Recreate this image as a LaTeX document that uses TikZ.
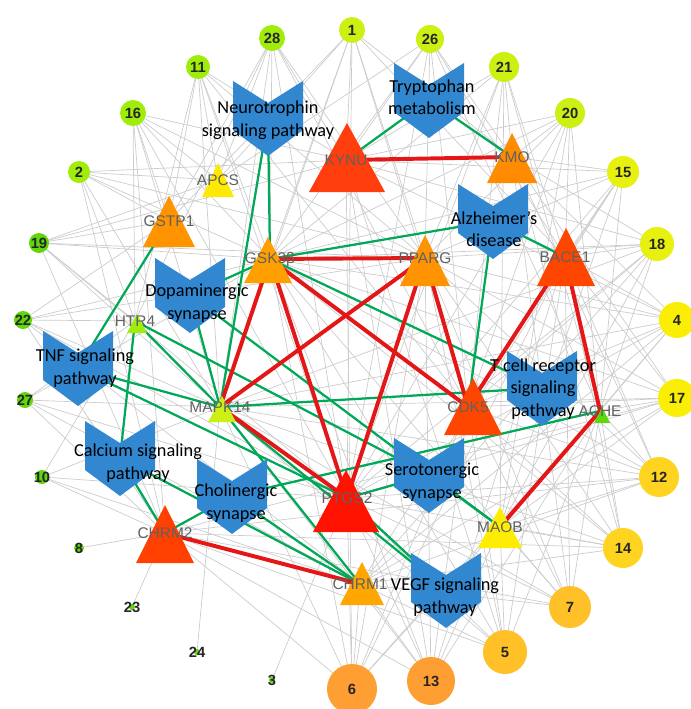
\documentclass[tikz,border=0pt]{standalone}
\usepackage{fontspec}
\setmainfont{Carlito}
\newfontfamily\arialfont{Liberation Sans}

\definecolor{pwblue}{RGB}{50,136,208}
\definecolor{lnkred}{RGB}{228,22,22}
\definecolor{lnkgreen}{RGB}{0,168,88}
\definecolor{cA}{RGB}{95,215,10}
\definecolor{cB}{RGB}{160,236,10}
\definecolor{cC}{RGB}{205,240,20}
\definecolor{cD}{RGB}{232,240,15}
\definecolor{cE}{RGB}{250,238,5}
\definecolor{cF}{RGB}{255,212,32}
\definecolor{cG}{RGB}{255,192,40}
\definecolor{cH}{RGB}{255,158,50}

\pgfdeclarelayer{edges}
\pgfdeclarelayer{labels}
\pgfsetlayers{edges,main,labels}

\tikzset{
  num/.style={font=\arialfont\bfseries\fontsize{10.5}{12}\selectfont, text=black!85, inner sep=0pt},
  cpd/.style={circle, inner sep=0pt, minimum size=#1*0.05cm},
  pwtext/.style={align=center, font=\fontsize{13}{16}\selectfont, inner sep=0pt},
  tgt/.style={font=\arialfont\fontsize{11}{12}\selectfont, text=black!62, inner sep=0pt},
  redlink/.style={lnkred, line width=2.8pt},
  greenlink/.style={lnkgreen, line width=1.6pt},
  greylink/.style={black!20, line width=0.5pt},
}
% triangle: x, apex y, base y, half width, colour
\newcommand\tri[5]{\fill[#5] (#1,#2) -- ({#1+#4},#3) -- ({#1-#4},#3) -- cycle;}
% pathway chevron: name, x, y
\newcommand\chev[3]{%
  \coordinate (#1) at (#2,#3);
  \fill[pwblue] ({#2-35},{#3-37}) -- (#2,{#3-15}) -- ({#2+35},{#3-37})
    -- ({#2+35},{#3+12}) -- (#2,{#3+38}) -- ({#2-35},{#3+12}) -- cycle;}

\begin{document}
\begin{tikzpicture}[x=0.025cm, y=-0.025cm]
  \useasboundingbox (0,0) rectangle (690,709);

  % compounds
  \foreach \n/\x/\y/\r/\c in {1/352/30/13/cC, 28/272/38/13/cB, 26/430/39/14/cC,
      11/198/67/12/cB, 21/504/67/15/cC, 16/133/113/13/cB, 20/570/113/15/cC,
      2/79/172/11/cB, 15/623/172/16/cD, 19/39/243/10/cA, 18/657/244/17/cD,
      22/23/320/9/cA, 4/677/320/18/cE, 27/25/400/8/cA, 17/677/398/19/cE,
      10/42/477/7/cA, 12/659/477/20/cF, 8/79/548/5/cA, 14/623/548/20/cF,
      23/132/607/3/cA, 7/570/607/21/cG, 24/197/652/3/cA, 5/505/652/22/cG,
      3/272/680/3/cA, 13/431/681/24/cH, 6/352/689/25/cH}
    \node[cpd=\r, fill=\c, label={[num]center:\n}] (c\n) at (\x,\y) {};

  % targets
  \tri{347}{123}{192}{38}{red!60!orange!95!white}
  \tri{512}{133}{183}{25}{orange!90!yellow}
  \tri{218}{163}{197}{16}{yellow!92!orange}
  \tri{169}{196}{247}{26}{orange!85!yellow}
  \tri{268}{237}{283}{24}{orange!75!yellow}
  \tri{425}{235}{286}{25}{orange!85!yellow}
  \tri{566}{228}{286}{29}{red!45!orange}
  \tri{137}{314}{333}{10}{cB}
  \tri{222}{396}{422}{14}{cC}
  \tri{473}{378}{435}{29}{red!45!orange}
  \tri{602}{407}{423}{8}{cA}
  \tri{346}{470}{532}{33}{red!85!orange}
  \tri{500}{507}{548}{22}{yellow!95!orange}
  \tri{165}{505}{563}{29}{red!50!orange}
  \tri{362}{562}{605}{22}{orange!70!yellow}

  % pathways
  \chev{neuro}{268}{118}
  \chev{trp}{429}{100}
  \chev{alz}{493}{221}
  \chev{dop}{190}{295}
  \chev{tnf}{78}{368}
  \chev{tcell}{542}{388}
  \chev{ca}{120}{458}
  \chev{chol}{232}{496}
  \chev{sero}{429}{475}
  \chev{vegf}{446}{590}

  \begin{pgfonlayer}{labels}
    \node[tgt] (kynu) at (346,160) {KYNU};
    \node[tgt] (kmo) at (512,157) {KMO};
    \node[tgt] (apcs) at (218,180) {APCS};
    \node[tgt] (gstp1) at (169,221) {GSTP1};
    \node[tgt] (gsk) at (270,259) {GSK3β};
    \node[tgt] (pparg) at (425,258) {PPARG};
    \node[tgt] (bace) at (565,257) {BACE1};
    \node[tgt] (htr4) at (135,321) {HTR4};
    \node[tgt] (mapk) at (220,407) {MAPK14};
    \node[tgt] (cdk) at (468,407) {CDK5};
    \node[tgt] (ache) at (600,411) {ACHE};
    \node[tgt] (ptgs) at (347,498) {PTGS2};
    \node[tgt] (maob) at (500,527) {MAOB};
    \node[tgt] (chrm2) at (165,533) {CHRM2};
    \node[tgt] (chrm1) at (360,584) {CHRM1};

    \node[pwtext] (neuro-l) at (268,120) {Neurotrophin\\signaling pathway};
    \node[pwtext] (trp-l) at (432,97) {Tryptophan\\metabolism};
    \node[pwtext] (alz-l) at (494,229) {Alzheimer’s\\disease};
    \node[pwtext] (dop-l) at (197,303) {Dopaminergic\\synapse};
    \node[pwtext] (tnf-l) at (85,368) {TNF signaling\\pathway};
    \node[pwtext] (tcell-l) at (543,389) {T cell receptor\\signaling\\pathway};
    \node[pwtext] (ca-l) at (138,463) {Calcium signaling\\pathway};
    \node[pwtext] (chol-l) at (236,503) {Cholinergic\\synapse};
    \node[pwtext] (sero-l) at (432,482) {Serotonergic\\synapse};
    \node[pwtext] (vegf-l) at (445,597) {VEGF signaling\\pathway};
  \end{pgfonlayer}

  \begin{pgfonlayer}{edges}
    % compound-target
    \foreach \s/\tl in {1/{kynu,gsk,pparg,cdk,ptgs,bace,gstp1,kmo,mapk,apcs},
        28/{kynu,gsk,apcs,gstp1,ptgs,mapk,pparg,cdk,htr4},
        26/{kynu,kmo,pparg,gsk,cdk,bace,ptgs,ache,apcs},
        11/{apcs,gsk,kynu,gstp1,mapk,pparg,htr4,cdk,ptgs},
        21/{kmo,kynu,pparg,cdk,bace,ptgs,gsk,ache,maob},
        16/{apcs,gstp1,gsk,kynu,mapk,htr4,pparg,ptgs,chrm2},
        20/{kmo,bace,pparg,cdk,ache,kynu,gsk,ptgs,maob},
        2/{gstp1,apcs,gsk,htr4,mapk,pparg,kynu,chrm2},
        15/{kmo,bace,pparg,cdk,ache,maob,kynu,gsk,ptgs,chrm1},
        19/{gstp1,gsk,htr4,mapk,pparg,kynu,apcs,chrm2,ptgs},
        18/{bace,kmo,cdk,ache,pparg,ptgs,maob,gsk,kynu,chrm1,mapk},
        22/{htr4,gstp1,gsk,mapk,chrm2,pparg,ptgs,chrm1},
        4/{bace,ache,cdk,pparg,ptgs,maob,kmo,gsk,kynu,mapk,chrm1},
        27/{htr4,mapk,chrm2,gsk,ptgs,chrm1},
        17/{ache,bace,cdk,maob,ptgs,pparg,gsk,chrm1,kmo,mapk,chrm2},
        10/{chrm2,mapk,htr4,ptgs,chrm1},
        12/{ache,maob,cdk,bace,ptgs,chrm1,pparg,gsk,mapk,kmo,chrm2},
        8/{chrm2},
        14/{maob,ache,cdk,ptgs,chrm1,bace,pparg,gsk,mapk,chrm2,kmo},
        23/{chrm2},
        7/{maob,chrm1,ptgs,cdk,ache,gsk,pparg,bace,mapk,kmo,chrm2},
        24/{mapk},
        5/{maob,chrm1,ptgs,cdk,gsk,pparg,chrm2,bace,mapk,kynu,ache},
        3/{ptgs},
        13/{chrm1,ptgs,maob,chrm2,gsk,cdk,pparg,mapk,kynu,ache,bace},
        6/{chrm1,ptgs,chrm2,mapk,gsk,pparg,cdk,maob,kynu,bace,ache}}
      \foreach \t in \tl
        \draw[greylink] (c\s.center) -- (\t.center);

    % pathway-target
    \foreach \p/\tl in {trp/{kynu,kmo}, neuro/{gsk,mapk}, alz/{gsk,cdk,bace},
        dop/{gsk,mapk,maob}, tnf/{gstp1,mapk,ptgs}, ca/{htr4,chrm2,chrm1},
        chol/{chrm2,chrm1,ache}, sero/{htr4,maob,ptgs}, tcell/{gsk,mapk},
        vegf/{mapk,ptgs}, htr4/{mapk}, mapk/{chrm1}}
      \foreach \t in \tl
        \draw[greenlink] (\p) -- (\t.center);

    % target-target
    \foreach \a/\b in {kynu/kmo, gsk/pparg, gsk/mapk, gsk/ptgs, gsk/cdk, pparg/mapk,
        pparg/ptgs, pparg/cdk, bace/cdk, bace/ache, mapk/ptgs, ache/maob, chrm2/chrm1}
      \draw[redlink] (\a.center) -- (\b.center);
  \end{pgfonlayer}
\end{tikzpicture}
\end{document}
